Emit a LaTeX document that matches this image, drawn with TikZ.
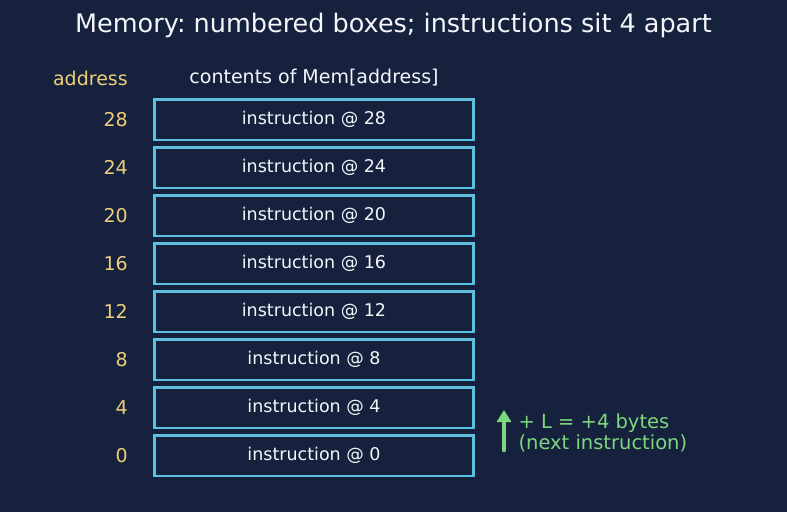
\documentclass[tikz,border=0pt]{standalone}
\usepackage{fontspec}
\setmainfont{DejaVu Sans}
\usetikzlibrary{arrows.meta,positioning}
\definecolor{bgfill}{HTML}{16213E}
\definecolor{cellline}{HTML}{5BC0DE}
\definecolor{addrtext}{HTML}{EDCF7A}
\definecolor{steptext}{HTML}{7ED67E}
\definecolor{ink}{HTML}{F4F6FA}
\frenchspacing
\tikzset{
  cell/.style={draw=cellline, line width=2.5pt, minimum width=319pt, minimum height=40.5pt, inner sep=0pt, text=ink, font=\fontsize{17.5}{20}\selectfont},
  addr/.style={text=addrtext, font=\fontsize{19}{22}\selectfont},
  head/.style={text=ink, font=\fontsize{19}{22}\selectfont},
  stepnote/.style={text=steptext, align=left, font=\fontsize{19.5}{21}\selectfont},
  arrow/.style={-{Triangle[length=12pt, width=14pt]}, line width=4.5pt, line cap=round, draw=steptext}
}

\begin{document}
\begin{tikzpicture}[x=1pt, y=-1pt, node distance=5pt]
  \fill[bgfill] (0,0) rectangle (787,512);
  \useasboundingbox (0,0) rectangle (787,512);

  \node[text=ink, font=\fontsize{25.5}{28}\selectfont] (title) at (393.5,25) {Memory: numbered boxes; instructions sit 4 apart};

  \node[cell] (m28) at (314,119.5) {instruction @ 28};
  \node[cell, below=of m28] (m24) {instruction @ 24};
  \node[cell, below=of m24] (m20) {instruction @ 20};
  \node[cell, below=of m20] (m16) {instruction @ 16};
  \node[cell, below=of m16] (m12) {instruction @ 12};
  \node[cell, below=of m12] (m8) {instruction @ 8};
  \node[cell, below=of m8] (m4) {instruction @ 4};
  \node[cell, below=of m4] (m0) {instruction @ 0};

  \node[addr, left=22pt of m28] (a28) {28};
  \node[addr, left=22pt of m24] (a24) {24};
  \node[addr, left=22pt of m20] (a20) {20};
  \node[addr, left=22pt of m16] (a16) {16};
  \node[addr, left=22pt of m12] (a12) {12};
  \node[addr, left=22pt of m8] (a8) {8};
  \node[addr, left=22pt of m4] (a4) {4};
  \node[addr, left=22pt of m0] (a0) {0};

  \node[head, above=8pt of m28] (colhead) {contents of Mem[address]};
  \node[addr, anchor=east] (addrhead) at (a28.east |- colhead) {address};

  % step to the next instruction
  \coordinate (stepbot) at (504,450);
  \coordinate (steptop) at (504,410);
  \draw[arrow] (stepbot) -- (steptop);
  \node[stepnote, anchor=west] (stepl) at (515,433) {+ L = +4 bytes\\(next instruction)};
\end{tikzpicture}
\end{document}
